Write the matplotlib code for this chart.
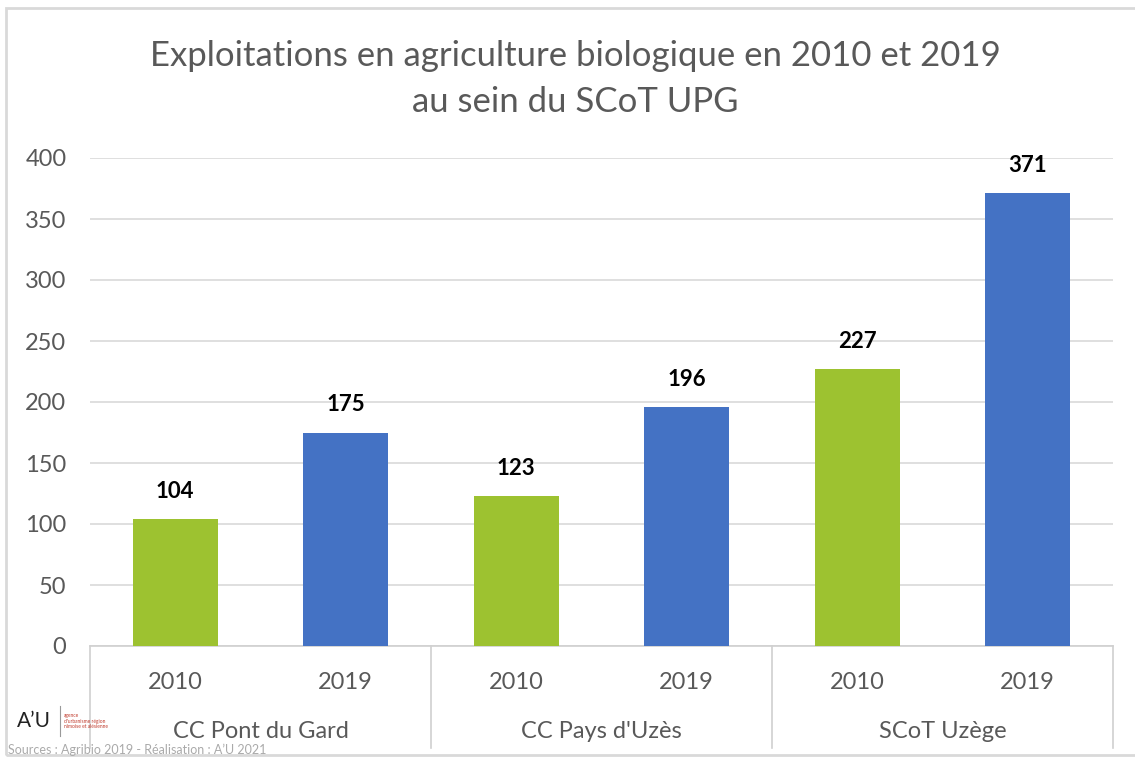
import matplotlib
matplotlib.use("Agg")
import matplotlib.pyplot as plt
from matplotlib.transforms import blended_transform_factory
from matplotlib.patches import Rectangle

groups = ["CC Pont du Gard", "CC Pays d'Uzès", "SCoT Uzège"]
years = ["2010", "2019"]
values = [104, 175, 123, 196, 227, 371]
colors_by_year = ["#9DC230", "#4472C4"]
yticks = [0, 50, 100, 150, 200, 250, 300, 350, 400]
title = "Exploitations en agriculture biologique en 2010 et 2019\nau sein du SCoT UPG"

plt.rcParams['font.family'] = ['Lato', 'DejaVu Sans']

W, H = 1135, 759
fig = plt.figure(figsize=(W/100, H/100), dpi=100)
fig.patch.set_facecolor("white")

# figure border
fig.add_artist(Rectangle((6/W, 1-755/H), (1140-6)/W, (755-8)/H, transform=fig.transFigure,
                         fill=False, edgecolor="#d9d9d9", linewidth=2))

x0, x1 = 90, 1113
y0, y400 = 646, 158
ax = fig.add_axes([x0/W, 1-y0/H, (x1-x0)/W, (y0-y400)/H])

n = len(values)
xs = list(range(n))
cols = [colors_by_year[i % 2] for i in range(n)]
ax.bar(xs, values, width=0.5, color=cols, zorder=3)
for x, v in zip(xs, values):
    ax.text(x, v + 14, str(v), ha="center", va="bottom", fontsize=16, fontweight="bold",
            color="black")

ax.set_xlim(-0.5, n - 0.5)
ax.set_ylim(0, 400)
ax.set_yticks(yticks)
ax.set_yticklabels([str(t) for t in yticks], fontsize=17, color="#595959")
ax.tick_params(axis="y", length=0, pad=17)
ax.set_xticks(xs)
ax.set_xticklabels([years[i % 2] for i in range(n)], fontsize=17, color="#595959")
ax.tick_params(axis="x", length=0, pad=19)
ax.grid(axis="y", color="#d9d9d9", linewidth=1.2, zorder=0)
for s in ["top", "right", "left"]:
    ax.spines[s].set_visible(False)
ax.spines["bottom"].set_color("#d0d0d0")
ax.spines["bottom"].set_linewidth(1.2)

tr = blended_transform_factory(ax.transData, ax.transAxes)
ybot = -(748 - y0) / (y0 - y400)
for sx in [-0.5, 1.5, 3.5, 5.5]:
    ax.plot([sx, sx], [0, ybot], transform=tr, color="#d0d0d0", linewidth=1.2, clip_on=False)
ylab = -(731 - y0) / (y0 - y400)
for gi, g in enumerate(groups):
    ax.text(2*gi + 0.5, ylab, g, transform=tr, ha="center", va="center", fontsize=17,
            color="#595959")

fig.text(575/W, 1-79/H, title, ha="center", va="center", fontsize=25, color="#595959",
         linespacing=1.5)

# logo and source
fig.text(17/W, 1-721/H, "A’U", ha="left", va="center", fontsize=15, color="#222222")
fig.add_artist(plt.Line2D([60/W, 60/W], [1-706/H, 1-736/H], transform=fig.transFigure,
                          color="#999999", linewidth=0.8))
fig.text(64/W, 1-721/H, "agence\nd'urbanisme région\nnîmoise et alésienne", ha="left",
         va="center", fontsize=3.5, color="#c0392b", linespacing=1.2)
fig.text(8/W, 1-750/H, "Sources : Agribio 2019 - Réalisation : A’U 2021", ha="left",
         va="center", fontsize=9, color="#aaaaaa")

fig.savefig("out.png", dpi=100, facecolor="white")
